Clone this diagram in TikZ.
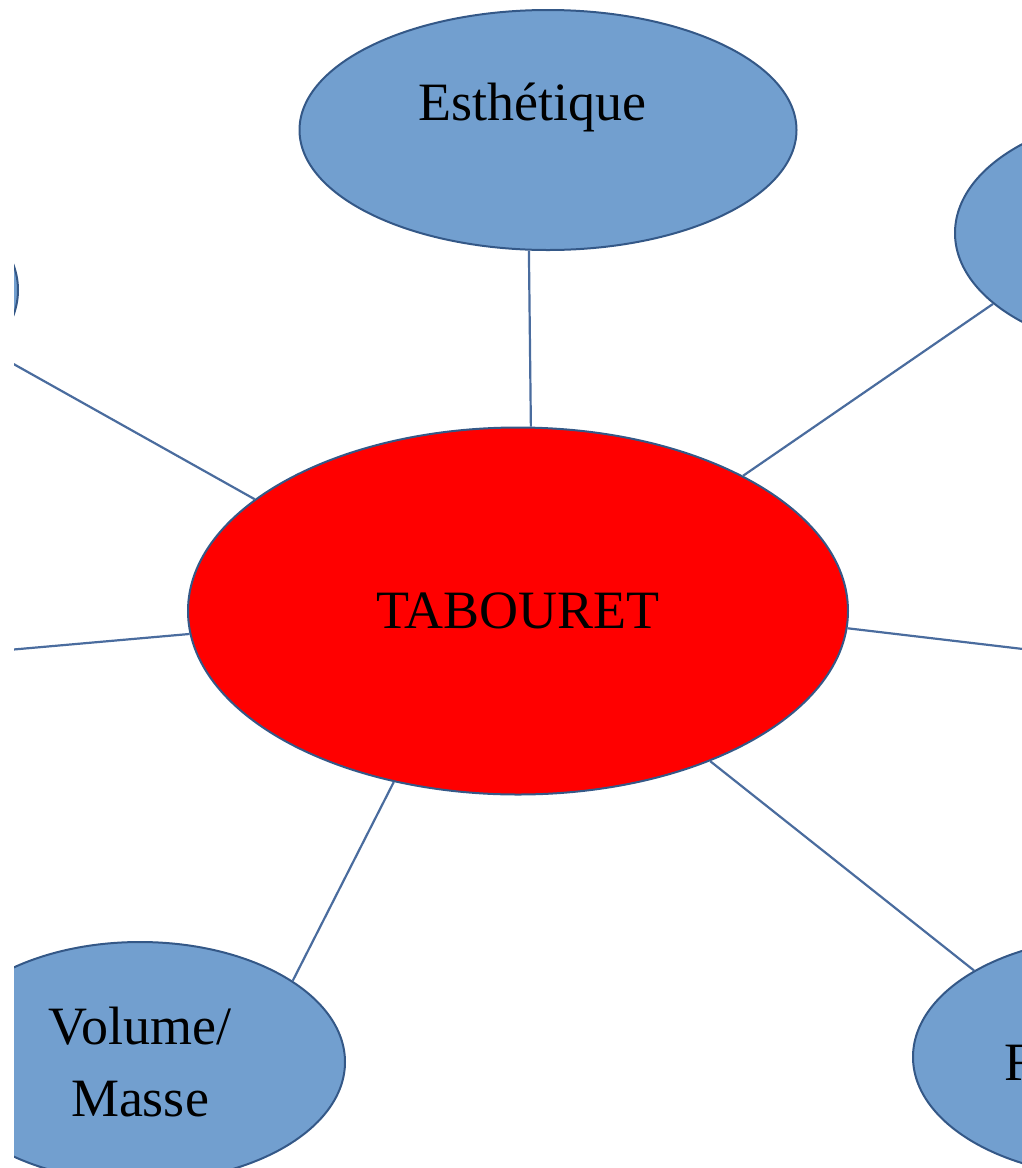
\documentclass[tikz,border=0pt]{standalone}
\usepackage{fontspec}
\setmainfont{Liberation Serif}
\usetikzlibrary{shapes.geometric}

\definecolor{leafblue}{RGB}{114,159,207}
\definecolor{rimblue}{RGB}{52,88,135}
\definecolor{linkblue}{RGB}{74,108,158}
\definecolor{hubred}{RGB}{255,0,0}

\begin{document}
\begin{tikzpicture}[
    x = 1pt, y = -1pt,
    hub/.style = {
      ellipse,
      draw = rimblue,
      line width = 2pt,
      fill = hubred,
      inner sep = 0pt,
      minimum width = 660pt,
      minimum height = 367pt},
    leaf/.style = {
      ellipse,
      draw = rimblue,
      line width = 2pt,
      fill = leafblue,
      inner sep = 0pt,
      minimum width = 410pt,
      minimum height = 240pt},
    word/.style = {
      inner sep = 0pt,
      font = \fontsize{54}{72}\selectfont},
    link/.style = {
      draw = linkblue,
      line width = 2.2pt}
  ]
  \useasboundingbox (0,0) rectangle (1022,1168);
  \clip (14,0) rectangle (1022,1168);

  % Centre of the map
  \node[hub, word] (tabouret) at (518,611) {TABOURET};

  % Criteria around it
  \node[leaf, minimum width = 497pt] (esthetique) at (548,130) {};
  \node[word, anchor = base] (esthetique-txt) at (532,120) {Esthétique};
  \node[leaf] (hautg) at (-187,290) {};
  \node[leaf] (hautd) at (1160,233) {};
  \node[leaf, word, align = center] (volume) at (140,1062) {Volume/\\Masse};
  \node[leaf] (basd) at (1118,1057) {};
  \node[word, anchor = base west] (basd-txt) at (1004,1080) {F};

  % Free ends of the lines leaving the picture
  \coordinate (gauche) at (-230,671);
  \coordinate (droite) at (1260,677);

  % Lines from the centre
  \draw[link] (tabouret.86) -- (esthetique.261);
  \draw[link] (tabouret.31.5) -- (hautd.203);
  \draw[link] (tabouret.157) -- (hautg.-19);
  \draw[link] (tabouret.184) -- (gauche);
  \draw[link] (tabouret.-3) -- (droite);
  \draw[link] (tabouret.234.6) -- (volume.28);
  \draw[link] (tabouret.-38.3) -- (basd.149);

\end{tikzpicture}
\end{document}
